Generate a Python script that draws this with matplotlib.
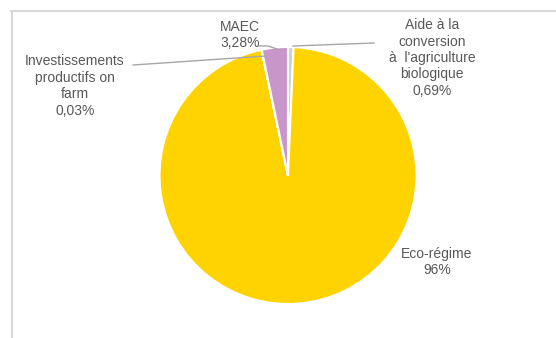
import matplotlib.pyplot as plt

# Données (ordre Excel : départ à midi, sens horaire)
categories = ['Aide à la\nconversion\nà  l\'agriculture\nbiologique',
              'Eco-régime',
              'Investissements\nproductifs on\nfarm',
              'MAEC']
valeurs = [0.69, 96.0, 0.03, 3.28]
etiquettes_pct = ['0,69%', '96%', '0,03%', '3,28%']
couleurs = ['#D0D0D0', '#FFD300', '#A5A5A5', '#C896C8']

W, H = 556, 338
fig = plt.figure(figsize=(W / 100, H / 100), dpi=100)
ax = fig.add_axes([0, 0, 1, 1])

cx, cy, r = 288, H - 175.5, 128.5
ax.pie(valeurs, colors=couleurs, startangle=90, counterclock=False,
       center=(cx, cy), radius=r, frame=True,
       wedgeprops=dict(edgecolor='white', linewidth=1.5))
ax.set_xlim(0, W)
ax.set_ylim(0, H)
ax.set_aspect('equal')
ax.axis('off')

# cadre de la zone graphique
ax.plot([11.5, 11.5], [0, H - 10.5], color='#D9D9D9', lw=1.5)
ax.plot([11, W], [H - 10.5, H - 10.5], color='#D9D9D9', lw=1.5)

txt = dict(fontsize=10, color='#595959', ha='center', va='center',
           family='Liberation Sans', linespacing=1.22)

# lignes de rappel
gris = '#A6A6A6'
ax.plot([133, 266], [H - 65, H - 56], color=gris, lw=1)
ax.plot([259, 268, 277], [H - 46, H - 46, H - 49], color=gris, lw=1)
ax.plot([374, 293], [H - 43, H - 46], color=gris, lw=1)

ax.text(240, H - 35, 'MAEC\n' + etiquettes_pct[3], **txt)
ax.text(75, H - 86, categories[2] + '\n' + etiquettes_pct[2], **txt)
ax.text(432, H - 58, categories[0] + '\n' + etiquettes_pct[0], **txt)
ax.text(437, H - 262, categories[1] + '\n' + etiquettes_pct[1], **txt)

fig.savefig('out.png', dpi=100, facecolor='white')
